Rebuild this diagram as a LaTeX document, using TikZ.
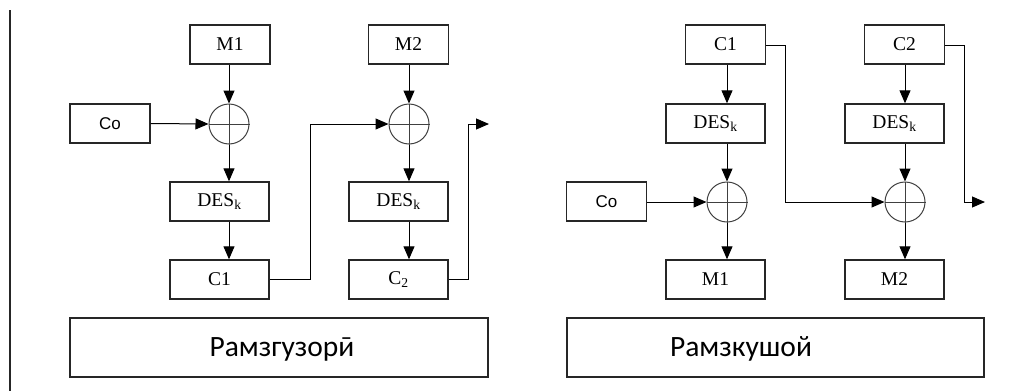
\documentclass[tikz,border=0pt]{standalone}
\usepackage{fontspec}
\setmainfont{Liberation Serif}
\newfontfamily\labelsans{Liberation Sans}
\newfontfamily\bigsans{Carlito}
\usetikzlibrary{arrows.meta}
\begin{document}
\begin{tikzpicture}[x=1pt,y=-1pt,
  blk/.style={draw=black!85,line width=1.4pt,minimum height=39pt,inner sep=0pt,font=\fontsize{19.5}{22}\selectfont},
  smallblk/.style={blk,minimum width=80pt},
  wideblk/.style={blk,minimum width=99pt},
  cobox/.style={blk,minimum width=80pt,font=\labelsans\fontsize{17}{19}\selectfont},
  xorc/.style={draw=black!75,line width=1pt,circle,minimum size=40pt,inner sep=0pt},
  titlebox/.style={draw=black!85,line width=1.4pt,inner sep=0pt},
  conn/.style={line width=1pt,draw=black},
  tip/.tip={Triangle[length=13pt,width=11pt]},
  arr/.style={conn,-tip}
]
\useasboundingbox (0,0) rectangle (1009,391);
\draw[line width=1.4pt,black!85] (10,10) -- (10,391);

% ---------- left: encryption ----------
\node[smallblk] (m1) at (230,44.5) {M1};
\node[cobox] (co1) at (110,123.5) {Co};
\node[xorc] (x1) at (229,124) {};
\draw[black!75,line width=1pt] (x1.north) -- (x1.south) (x1.west) -- (x1.east);
\node[wideblk] (d1) at (219.5,201.5) {DES\textsubscript{k}};
\node[wideblk] (c1) at (219.5,279.5) {C1};

\node[smallblk] (m2) at (408.5,44.5) {M2};
\node[xorc] (x2) at (409,124) {};
\draw[black!75,line width=1pt] (x2.north) -- (x2.south) (x2.west) -- (x2.east);
\node[wideblk] (d2) at (398.5,201.5) {DES\textsubscript{k}};
\node[wideblk] (c2) at (398.5,279.5) {C\textsubscript{2}};
\coordinate (out1) at (489,124);

\draw[arr] (x1 |- m1.south) -- (x1.north);
\draw[arr] (co1.east) -- (x1.west);
\draw[arr] (x1.south) -- (x1 |- d1.north);
\draw[arr] (x1 |- d1.south) -- (x1 |- c1.north);
\draw[arr] (c1.east |- 0,279) -| (310,124) -- (x2.west);
\draw[arr] (x2 |- m2.south) -- (x2.north);
\draw[arr] (x2.south) -- (x2 |- d2.north);
\draw[arr] (x2 |- d2.south) -- (x2 |- c2.north);
\draw[arr] (c2.east |- 0,279) -| (468,124) -- (out1);

\node[titlebox,minimum width=418pt,minimum height=59pt] (t1) at (279,347.5) {};
\node[font=\bigsans\fontsize{29.5}{32}\selectfont] at (282,349) {Рамзгузорӣ};

% ---------- right: decryption ----------
\node[smallblk] (c1r) at (725.5,44.5) {C1};
\node[wideblk] (d3) at (715.5,123.5) {DES\textsubscript{k}};
\node[xorc] (x3) at (727,202) {};
\draw[black!75,line width=1pt] (x3.north) -- (x3.south) (x3.west) -- (x3.east);
\node[cobox] (co2) at (606.5,201.5) {Co};
\node[wideblk] (m1r) at (715.5,279.5) {M1};

\node[smallblk] (c2r) at (904.5,44.5) {C2};
\node[wideblk] (d4) at (894.5,123.5) {DES\textsubscript{k}};
\node[xorc] (x4) at (905,202) {};
\draw[black!75,line width=1pt] (x4.north) -- (x4.south) (x4.west) -- (x4.east);
\node[wideblk] (m2r) at (894.5,279.5) {M2};
\coordinate (out2) at (985,202);

\draw[arr] (x3 |- c1r.south) -- (x3 |- d3.north);
\draw[arr] (x3 |- d3.south) -- (x3.north);
\draw[arr] (co2.east |- x3) -- (x3.west);
\draw[arr] (x3.south) -- (x3 |- m1r.north);
\draw[arr] (c1r.east |- 0,45) -| (785,202) -- (x4.west);
\draw[arr] (x4 |- c2r.south) -- (x4 |- d4.north);
\draw[arr] (x4 |- d4.south) -- (x4.north);
\draw[arr] (x4.south) -- (x4 |- m2r.north);
\draw[arr] (c2r.east |- 0,45) -| (964,202) -- (out2);

\node[titlebox,minimum width=417pt,minimum height=59pt] (t2) at (775.5,347.5) {};
\node[font=\bigsans\fontsize{29.5}{32}\selectfont] at (741,349) {Рамзкушой};
\end{tikzpicture}
\end{document}
